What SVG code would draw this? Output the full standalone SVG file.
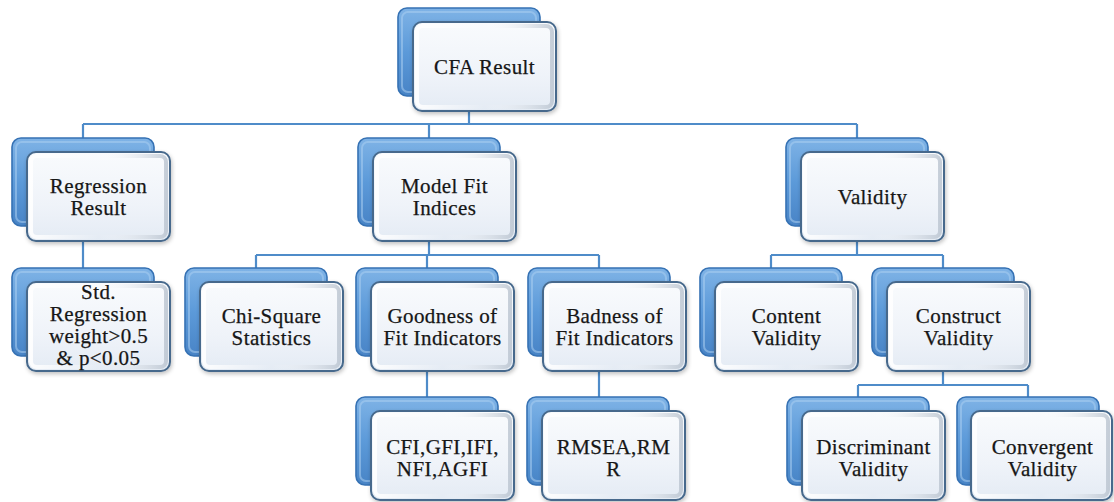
<svg xmlns="http://www.w3.org/2000/svg" width="1114" height="502" viewBox="0 0 1114 502">
  <defs>
    <linearGradient id="backFill" x1="0" y1="0" x2="0" y2="1">
      <stop offset="0" stop-color="#7fb3e6"/>
      <stop offset="0.5" stop-color="#5c9ad9"/>
      <stop offset="1" stop-color="#4884c6"/>
    </linearGradient>
    <linearGradient id="frontFill" x1="0" y1="0" x2="0" y2="1">
      <stop offset="0" stop-color="#f9fbfd"/>
      <stop offset="0.6" stop-color="#eff3f9"/>
      <stop offset="1" stop-color="#e4ebf4"/>
    </linearGradient>
    <linearGradient id="bevelSide" x1="0" y1="0" x2="1" y2="0">
      <stop offset="0" stop-color="#ffffff" stop-opacity="0.9"/>
      <stop offset="0.5" stop-color="#ffffff" stop-opacity="0"/>
      <stop offset="1" stop-color="#b9c3cf" stop-opacity="0.8"/>
    </linearGradient>
    <filter id="soft" x="-10%" y="-10%" width="125%" height="130%">
      <feGaussianBlur in="SourceAlpha" stdDeviation="2"/>
      <feOffset dx="1" dy="2"/>
      <feComponentTransfer><feFuncA type="linear" slope="0.25"/></feComponentTransfer>
      <feMerge><feMergeNode/><feMergeNode in="SourceGraphic"/></feMerge>
    </filter>
  </defs>
  <style>
    .back { fill: url(#backFill); stroke: #3672b4; stroke-width: 1.6; }
    .backIn { fill: none; stroke: #a9cdf0; stroke-width: 2; opacity: 0.55; }
    .front { fill: url(#frontFill); stroke: #47698c; stroke-width: 2; filter: url(#soft); }
    .frontIn { fill: none; stroke: url(#bevelSide); stroke-width: 4; }
    .link { fill: none; stroke: #4f8cc9; stroke-width: 2.2; }
    text { font-family: "Liberation Serif", "Times New Roman", serif; font-size: 21px; letter-spacing: 0.4px; fill: #161616; stroke: #161616; stroke-width: 0.25px; text-anchor: middle; }
  </style>

  <!-- tree connectors, drawn beneath the boxes -->
  <g id="connectors">
    <path class="link" d="M469,95 V124 M83,124 H857 M83,124 V138 M429,124 V138 M857,124 V138"/>
    <path class="link" d="M83,225 V268"/>
    <path class="link" d="M429,225 V255 M256,255 H599 M256,255 V268 M427,255 V268 M599,255 V268"/>
    <path class="link" d="M857,225 V255 M771,255 H943 M771,255 V268 M943,255 V268"/>
    <path class="link" d="M427,355 V397"/>
    <path class="link" d="M599,355 V397"/>
    <path class="link" d="M943,355 V385 M858,385 H1028 M858,385 V397 M1028,385 V397"/>
  </g>

  <g id="cfa-result">
    <rect class="back" x="398" y="8" width="142" height="88" rx="9"/>
    <rect class="backIn" x="402" y="12" width="134" height="80" rx="6"/>
    <rect class="front" x="413" y="22" width="143" height="89" rx="9"/>
    <rect class="frontIn" x="417" y="26" width="135" height="81" rx="6"/>
    <text x="484.5" y="73.5">CFA Result</text>
  </g>

  <g id="regression-result">
    <rect class="back" x="12" y="138" width="142" height="88" rx="9"/>
    <rect class="backIn" x="16" y="142" width="134" height="80" rx="6"/>
    <rect class="front" x="27" y="152" width="143" height="89" rx="9"/>
    <rect class="frontIn" x="31" y="156" width="135" height="81" rx="6"/>
    <text x="98.5" y="193">Regression</text>
    <text x="98.5" y="215">Result</text>
  </g>

  <g id="model-fit-indices">
    <rect class="back" x="358" y="138" width="142" height="88" rx="9"/>
    <rect class="backIn" x="362" y="142" width="134" height="80" rx="6"/>
    <rect class="front" x="373" y="152" width="143" height="89" rx="9"/>
    <rect class="frontIn" x="377" y="156" width="135" height="81" rx="6"/>
    <text x="444.5" y="193">Model Fit</text>
    <text x="444.5" y="215">Indices</text>
  </g>

  <g id="validity">
    <rect class="back" x="786" y="138" width="142" height="88" rx="9"/>
    <rect class="backIn" x="790" y="142" width="134" height="80" rx="6"/>
    <rect class="front" x="801" y="152" width="143" height="89" rx="9"/>
    <rect class="frontIn" x="805" y="156" width="135" height="81" rx="6"/>
    <text x="872.5" y="203.5">Validity</text>
  </g>

  <g id="std-regression-weight">
    <rect class="back" x="12" y="268" width="142" height="88" rx="9"/>
    <rect class="backIn" x="16" y="272" width="134" height="80" rx="6"/>
    <rect class="front" x="27" y="282" width="143" height="89" rx="9"/>
    <rect class="frontIn" x="31" y="286" width="135" height="81" rx="6"/>
    <text x="98.5" y="299">Std.</text>
    <text x="98.5" y="321">Regression</text>
    <text x="98.5" y="343">weight&gt;0.5</text>
    <text x="98.5" y="365">&amp; p&lt;0.05</text>
  </g>

  <g id="chi-square-statistics">
    <rect class="back" x="185" y="268" width="142" height="88" rx="9"/>
    <rect class="backIn" x="189" y="272" width="134" height="80" rx="6"/>
    <rect class="front" x="200" y="282" width="143" height="89" rx="9"/>
    <rect class="frontIn" x="204" y="286" width="135" height="81" rx="6"/>
    <text x="271.5" y="323">Chi-Square</text>
    <text x="271.5" y="345">Statistics</text>
  </g>

  <g id="goodness-of-fit">
    <rect class="back" x="356" y="268" width="142" height="88" rx="9"/>
    <rect class="backIn" x="360" y="272" width="134" height="80" rx="6"/>
    <rect class="front" x="371" y="282" width="143" height="89" rx="9"/>
    <rect class="frontIn" x="375" y="286" width="135" height="81" rx="6"/>
    <text x="442.5" y="323">Goodness of</text>
    <text x="442.5" y="345">Fit Indicators</text>
  </g>

  <g id="badness-of-fit">
    <rect class="back" x="528" y="268" width="142" height="88" rx="9"/>
    <rect class="backIn" x="532" y="272" width="134" height="80" rx="6"/>
    <rect class="front" x="543" y="282" width="143" height="89" rx="9"/>
    <rect class="frontIn" x="547" y="286" width="135" height="81" rx="6"/>
    <text x="614.5" y="323">Badness of</text>
    <text x="614.5" y="345">Fit Indicators</text>
  </g>

  <g id="content-validity">
    <rect class="back" x="700" y="268" width="142" height="88" rx="9"/>
    <rect class="backIn" x="704" y="272" width="134" height="80" rx="6"/>
    <rect class="front" x="715" y="282" width="143" height="89" rx="9"/>
    <rect class="frontIn" x="719" y="286" width="135" height="81" rx="6"/>
    <text x="786.5" y="323">Content</text>
    <text x="786.5" y="345">Validity</text>
  </g>

  <g id="construct-validity">
    <rect class="back" x="872" y="268" width="142" height="88" rx="9"/>
    <rect class="backIn" x="876" y="272" width="134" height="80" rx="6"/>
    <rect class="front" x="887" y="282" width="143" height="89" rx="9"/>
    <rect class="frontIn" x="891" y="286" width="135" height="81" rx="6"/>
    <text x="958.5" y="323">Construct</text>
    <text x="958.5" y="345">Validity</text>
  </g>

  <g id="goodness-indices">
    <rect class="back" x="356" y="397" width="142" height="88" rx="9"/>
    <rect class="backIn" x="360" y="401" width="134" height="80" rx="6"/>
    <rect class="front" x="371" y="411" width="143" height="89" rx="9"/>
    <rect class="frontIn" x="375" y="415" width="135" height="81" rx="6"/>
    <text x="442.5" y="454">CFI,GFI,IFI,</text>
    <text x="442.5" y="476">NFI,AGFI</text>
  </g>

  <g id="badness-indices">
    <rect class="back" x="527" y="397" width="142" height="88" rx="9"/>
    <rect class="backIn" x="531" y="401" width="134" height="80" rx="6"/>
    <rect class="front" x="542" y="411" width="143" height="89" rx="9"/>
    <rect class="frontIn" x="546" y="415" width="135" height="81" rx="6"/>
    <text x="613.5" y="454">RMSEA,RM</text>
    <text x="613.5" y="476">R</text>
  </g>

  <g id="discriminant-validity">
    <rect class="back" x="787" y="397" width="142" height="88" rx="9"/>
    <rect class="backIn" x="791" y="401" width="134" height="80" rx="6"/>
    <rect class="front" x="802" y="411" width="143" height="89" rx="9"/>
    <rect class="frontIn" x="806" y="415" width="135" height="81" rx="6"/>
    <text x="873.5" y="454">Discriminant</text>
    <text x="873.5" y="476">Validity</text>
  </g>

  <g id="convergent-validity">
    <rect class="back" x="957" y="397" width="142" height="88" rx="9"/>
    <rect class="backIn" x="961" y="401" width="134" height="80" rx="6"/>
    <rect class="front" x="971" y="411" width="141" height="89" rx="9"/>
    <rect class="frontIn" x="975" y="415" width="133" height="81" rx="6"/>
    <text x="1042.5" y="454">Convergent</text>
    <text x="1042.5" y="476">Validity</text>
  </g>
</svg>
